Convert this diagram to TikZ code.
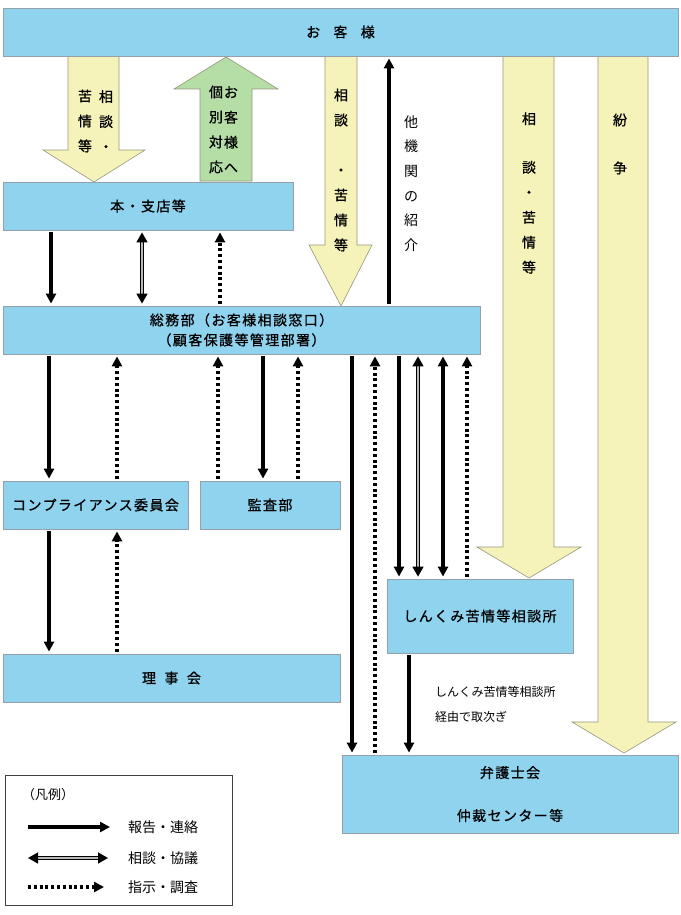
\documentclass[tikz,border=0pt]{standalone}
\usepackage{fontspec}
\setmainfont{Noto Sans CJK JP}
\usetikzlibrary{arrows.meta}

\definecolor{boxblue}{RGB}{143,211,238}
\definecolor{boxline}{RGB}{150,160,168}
\definecolor{flowyellow}{RGB}{245,243,185}
\definecolor{flowgreen}{RGB}{181,221,166}
\definecolor{flowline}{RGB}{150,150,125}

\tikzset{
  box/.style={draw=boxline, fill=boxblue, line width=0.8pt, inner sep=0pt,
    font=\fontsize{14}{16}\selectfont\addfontfeature{LetterSpace=10,FakeBold=0.8}},
  bigarrow/.style={draw=flowline, line width=0.6pt},
  vtext/.style={align=center, inner sep=0pt,
    font=\fontsize{14}{25}\selectfont\addfontfeature{FakeBold=0.8}},
  report/.style={line width=3.2pt, shorten >=2pt, shorten <=2pt,
    -{Triangle[length=10pt,width=10pt]}},
  twoway/.style={line width=3.2pt, shorten >=2pt, shorten <=2pt,
    {Triangle[length=10pt,width=10pt]}-{Triangle[length=10pt,width=10pt]}},
  consult/.style={double=gray!55, double distance=1.8pt, line width=1.5pt,
    shorten >=2pt, shorten <=2pt,
    {Triangle[length=10pt,width=11pt]}-{Triangle[length=10pt,width=11pt]}},
  order/.style={line width=3.2pt, dash pattern=on 3pt off 2.8pt,
    shorten >=2pt, shorten <=2pt, -{Triangle[length=10pt,width=10pt]}}
}

\begin{document}
\begin{tikzpicture}[x=1pt, y=-1pt]
    \useasboundingbox (0,0) rectangle (680,915);

    % BIG FLOW ARROWS (drawn first, boxes on top)
    % customer -> branches
    \draw[bigarrow, fill=flowyellow] (68,56) -- (119,56) -- (119,150) -- (145,150)
        -- (94,182) -- (43,150) -- (68,150) -- cycle;
    % branches -> customer (individual handling)
    \draw[bigarrow, fill=flowgreen] (200,181) -- (252,181) -- (252,89) -- (278,89)
        -- (226,57) -- (174,89) -- (200,89) -- cycle;
    % customer -> general affairs
    \draw[bigarrow, fill=flowyellow] (325,56) -- (357,56) -- (357,245) -- (372,245)
        -- (341,306) -- (309,245) -- (325,245) -- cycle;
    % customer -> shinkumi centre
    \draw[bigarrow, fill=flowyellow] (503,56) -- (554,56) -- (554,547) -- (581,547)
        -- (529,578) -- (477,547) -- (503,547) -- cycle;
    % customer -> bar association (dispute)
    \draw[bigarrow, fill=flowyellow] (598,56) -- (648,56) -- (648,722) -- (676,722)
        -- (624,753) -- (572,722) -- (598,722) -- cycle;

    % TEXT ON THE BIG ARROWS
    \node[vtext] (t1r) at (106,121) {相\\談\\・};
    \node[vtext] (t1l) at (85,121) {苦\\情\\等};
    \node[vtext] (t2l) at (216,129.5) {個\\別\\対\\応};
    \node[vtext] (t2r) at (231,129.5) {お\\客\\様\\へ};
    \node[vtext] (t3) at (341,170) {相\\談\\[25pt]・\\苦\\情\\等};
    \node[vtext] (t5) at (529,193) {相\\[23.5pt]談\\・\\苦\\情\\等};
    \node[vtext] (t6) at (620,144) {紛\\[23pt]争};

    % BOXES
    \node[box, minimum width=675pt, minimum height=48pt] (okyaku) at (340.5,32)
        {お\hspace{0.95em}客\hspace{0.95em}様\hspace{10pt}};
    \node[box, minimum width=290pt, minimum height=48pt] (honten) at (148,206) {本・支店等};
    \node[box, minimum width=477pt, minimum height=48pt, align=center] (soumu) at (241.5,330)
        {総務部（お客様相談窓口）\\[4pt]（顧客保護等管理部署）};
    \node[box, minimum width=185pt, minimum height=48pt] (comp) at (95.5,505) {コンプライアンス委員会};
    \node[box, minimum width=140pt, minimum height=48pt] (kansa) at (270,505) {監査部};
    \node[box, minimum width=337pt, minimum height=48pt] (riji) at (171.5,678)
        {理\hspace{0.6em}事\hspace{0.6em}会};
    \node[box, minimum width=186pt, minimum height=74pt] (shinkumi) at (480,616) {しんくみ苦情等相談所};
    \node[box, minimum width=336pt, minimum height=78pt, align=center] (bengo) at (510,794)
        {弁護士会\\[27pt]仲裁センター等\hspace{12pt}};

    % referral to other bodies
    \node[vtext, font=\fontsize{14}{24.6}\selectfont] (tako) at (411,183.5) {他\\機\\関\\の\\紹\\介};
    \draw[report] (soumu.north -| 389,0) -- (okyaku.south -| 389,0);

    % BRANCHES <-> GENERAL AFFAIRS
    \draw[report] (honten.south -| 51,0) -- (soumu.north -| 51,0);
    \draw[consult] (honten.south -| 142,0) -- (soumu.north -| 142,0);
    \draw[order] (soumu.north -| 220,0) -- (honten.south -| 220,0);

    % GENERAL AFFAIRS <-> COMPLIANCE / AUDIT
    \draw[report] (soumu.south -| 49,0) -- (comp.north -| 49,0);
    \draw[order] (comp.north -| 117,0) -- (soumu.south -| 117,0);
    \draw[order] (kansa.north -| 218,0) -- (soumu.south -| 218,0);
    \draw[report] (soumu.south -| 263,0) -- (kansa.north -| 263,0);
    \draw[order] (kansa.north -| 298,0) -- (soumu.south -| 298,0);

    % COMPLIANCE <-> BOARD
    \draw[report] (comp.south -| 49,0) -- (riji.north -| 49,0);
    \draw[order] (riji.north -| 117,0) -- (comp.south -| 117,0);

    % GENERAL AFFAIRS <-> SHINKUMI / BAR ASSOCIATION
    \draw[report] (soumu.south -| 352,0) -- (bengo.north -| 352,0);
    \draw[order] (bengo.north -| 375,0) -- (soumu.south -| 375,0);
    \draw[report] (soumu.south -| 399,0) -- (shinkumi.north -| 399,0);
    \draw[consult] (soumu.south -| 418,0) -- (shinkumi.north -| 418,0);
    \draw[twoway] (soumu.south -| 443,0) -- (shinkumi.north -| 443,0);
    \draw[order] (shinkumi.north -| 467,0) -- (soumu.south -| 467,0);

    % shinkumi -> bar association
    \draw[report] (shinkumi.south -| 409,0) -- (bengo.north -| 409,0);
    \node[anchor=west, align=left, inner sep=0pt, font=\fontsize{12}{25}\selectfont] (torit)
        at (435,704.5) {しんくみ苦情等相談所\\経由で取次ぎ};

    % LEGEND
    \node[draw=black!75, line width=0.8pt, minimum width=227pt, minimum height=130pt] (legend)
        at (118.5,840) {};
    \node[anchor=west, inner sep=0pt, font=\fontsize{13}{15}\selectfont] (hanrei) at (22,795) {（凡例）};
    \node[anchor=west, inner sep=0pt, font=\fontsize{14}{16}\selectfont] (lab1) at (128,827) {報告・連絡};
    \node[anchor=west, inner sep=0pt, font=\fontsize{14}{16}\selectfont] (lab2) at (128,858) {相談・協議};
    \node[anchor=west, inner sep=0pt, font=\fontsize{14}{16}\selectfont] (lab3) at (128,887) {指示・調査};
    \coordinate (l1s) at (28,827);  \coordinate (l1e) at (110,827);
    \coordinate (l2s) at (28,858);  \coordinate (l2e) at (108,858);
    \coordinate (l3s) at (28,887);  \coordinate (l3e) at (104,887);
    \draw[report, shorten <=0pt, shorten >=0pt] (l1s) -- (l1e);
    \draw[consult, shorten <=0pt, shorten >=0pt] (l2s) -- (l2e);
    \draw[order, shorten <=0pt, shorten >=0pt] (l3s) -- (l3e);

\end{tikzpicture}
\end{document}
